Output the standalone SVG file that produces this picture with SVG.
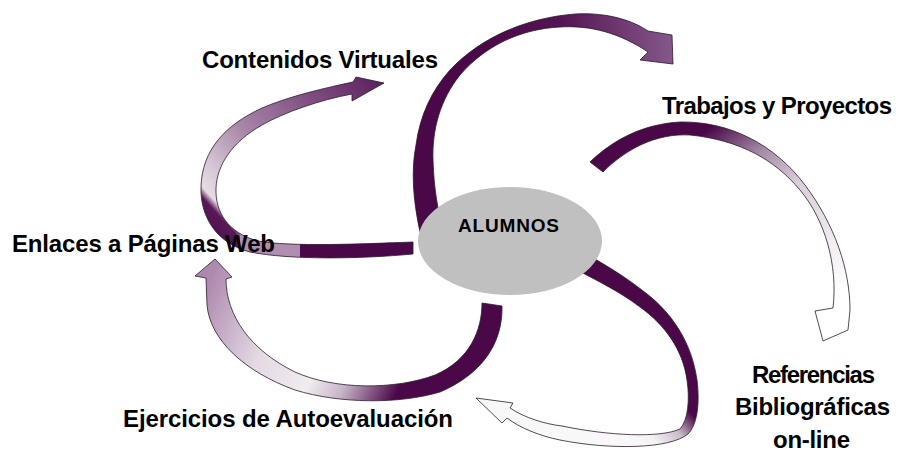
<svg xmlns="http://www.w3.org/2000/svg" width="906" height="453" viewBox="0 0 906 453">
<defs>
<style>
.lbl{font-family:"Liberation Sans Narrow","Arial Narrow","Liberation Sans",Arial,sans-serif;font-weight:bold;fill:#000;}
.arw{stroke:#2b1b2b;stroke-width:0.8;stroke-linejoin:round;}
</style>
<linearGradient id="gA" gradientUnits="userSpaceOnUse" x1="480" y1="50" x2="672" y2="50">
<stop offset="0" stop-color="#4a0848"/><stop offset="0.4" stop-color="#541352"/><stop offset="1" stop-color="#84578a"/>
</linearGradient>
<linearGradient id="gB" gradientUnits="userSpaceOnUse" x1="690" y1="120" x2="830" y2="300">
<stop offset="0" stop-color="#4a0848"/><stop offset="0.08" stop-color="#4a0848"/><stop offset="0.3" stop-color="#a48ca6"/><stop offset="0.5" stop-color="#d8ccd8"/><stop offset="0.8" stop-color="#f0ecf0"/><stop offset="1" stop-color="#ffffff"/>
</linearGradient>
<linearGradient id="gC" gradientUnits="userSpaceOnUse" x1="690" y1="400" x2="640" y2="445">
<stop offset="0" stop-color="#4a0848"/><stop offset="0.12" stop-color="#4a0848"/><stop offset="0.45" stop-color="#c8bcc8"/><stop offset="0.8" stop-color="#f4f2f4"/><stop offset="1" stop-color="#f8f8f8"/>
</linearGradient>
<linearGradient id="gD" gradientUnits="userSpaceOnUse" x1="470" y1="380" x2="215" y2="265">
<stop offset="0" stop-color="#4a0848"/><stop offset="0.22" stop-color="#4a0848"/><stop offset="0.4" stop-color="#c8b4c8"/><stop offset="0.52" stop-color="#f0ecf0"/><stop offset="0.72" stop-color="#e4dae4"/><stop offset="1" stop-color="#ad88af"/>
</linearGradient>
<linearGradient id="gE" gradientUnits="userSpaceOnUse" x1="215" y1="235" x2="385" y2="80">
<stop offset="0" stop-color="#4f0f4e"/><stop offset="0.07" stop-color="#5a1a58"/><stop offset="0.1" stop-color="#e4dce4"/><stop offset="0.18" stop-color="#d8cad8"/><stop offset="0.4" stop-color="#a886a8"/><stop offset="0.72" stop-color="#7c4c80"/><stop offset="1" stop-color="#5c1e5d"/>
</linearGradient>
<clipPath id="clipE">
<path d="M 413,254 C 360,259 290,260 250,252 C 215,243 200,215 201,187 C 202,150 225,125 262,108 C 290,96 325,88 353,82 L 356,77 L 384,83 L 352,101 L 352,94 C 320,100 285,112 262,125 C 232,142 217,165 216,188 C 215,212 228,233 258,241 C 290,247 360,244 413,242 Z"/>
</clipPath>
</defs>
<rect width="906" height="453" fill="#ffffff"/>
<g id="connectors">
<path id="arrow-contenidos-trabajos" class="arw" fill="url(#gA)" d="M 420,232 C 413,200 411,170 416,145 C 420,115 432,90 450,70 C 480,38 525,18 575,14 C 610,12 635,22 648,31 L 672,35 L 673,64 L 640,60 L 648,52 C 620,33 590,25 560,27 C 520,29 485,46 460,75 C 440,100 432,130 433,160 C 434,190 438,210 442,225 Z"/>
<path id="arrow-trabajos-referencias" class="arw" fill="url(#gB)" d="M 590,162 C 615,138 645,124 680,122 C 730,121 775,145 805,185 C 835,225 850,270 850,310 L 848,330 L 823,341 L 815,311 L 833,308 C 838,265 825,220 800,190 C 775,160 740,140 690,135 C 655,133 625,150 603,172 Z"/>
<path id="arrow-referencias-ejercicios" class="arw" fill="url(#gC)" d="M 593,258 C 620,273 640,288 652,298 C 675,318 692,345 697,380 C 700,405 697,425 688,434 C 670,449 610,450 560,440 C 540,436 520,428 507,418 L 502,423 L 476,398 L 513,403 L 510,408 C 525,418 545,424 562,426 C 610,436 660,438 680,429 C 688,420 690,400 687,380 C 683,350 665,325 640,307 C 620,292 600,282 577,270 Z"/>
<path id="arrow-ejercicios-enlaces" class="arw" fill="url(#gD)" d="M 502,306 C 503,345 480,375 440,392 C 400,404 340,404 295,390 C 245,372 210,340 207,305 L 206,278 L 195,276 L 215,259 L 232,277 L 226,279 C 226,315 250,350 295,372 C 335,390 395,390 435,375 C 470,360 482,330 482,303 Z"/>
<g id="arrow-enlaces-contenidos">
<g clip-path="url(#clipE)">
<rect x="190" y="70" width="200" height="200" fill="url(#gE)"/>
<rect x="300" y="230" width="120" height="35" fill="#4a0848"/>
<rect x="240" y="230" width="60" height="35" fill="#b08eb2"/>
</g>
<path class="arw" fill="none" d="M 413,254 C 360,259 290,260 250,252 C 215,243 200,215 201,187 C 202,150 225,125 262,108 C 290,96 325,88 353,82 L 356,77 L 384,83 L 352,101 L 352,94 C 320,100 285,112 262,125 C 232,142 217,165 216,188 C 215,212 228,233 258,241 C 290,247 360,244 413,242 Z"/>
</g>
</g>
<g id="alumnos">
<ellipse cx="510" cy="241" rx="92" ry="54" fill="#c0c0c0"/>
<text class="lbl" x="458" y="232" font-size="19" textLength="101" lengthAdjust="spacing">ALUMNOS</text>
</g>
<g id="contenidos-virtuales">
<text class="lbl" x="202" y="68" font-size="24" textLength="236" lengthAdjust="spacing">Contenidos Virtuales</text>
</g>
<g id="trabajos-proyectos">
<text class="lbl" x="662" y="114" font-size="24" textLength="230" lengthAdjust="spacing">Trabajos y Proyectos</text>
</g>
<g id="enlaces-paginas-web">
<text class="lbl" x="12" y="252" font-size="24" textLength="263" lengthAdjust="spacing">Enlaces a Páginas Web</text>
</g>
<g id="ejercicios-autoevaluacion">
<text class="lbl" x="123" y="427" font-size="24" textLength="330" lengthAdjust="spacing">Ejercicios de Autoevaluación</text>
</g>
<g id="referencias-bibliograficas">
<text class="lbl" x="752" y="383" font-size="24" textLength="123" lengthAdjust="spacing">Referencias</text>
<text class="lbl" x="735" y="415" font-size="24" textLength="155" lengthAdjust="spacing">Bibliográficas</text>
<text class="lbl" x="773" y="448" font-size="24" textLength="77" lengthAdjust="spacing">on-line</text>
</g>
</svg>
